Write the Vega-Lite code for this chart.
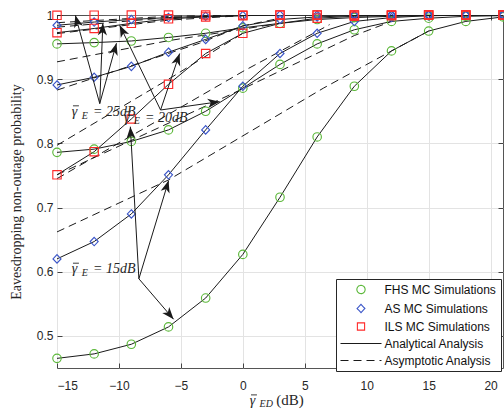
{
  "$schema": "https://vega.github.io/schema/vega-lite/v6.json",
  "width": 446,
  "height": 353,
  "autosize": {"type": "none"},
  "padding": {"left": 57, "top": 15, "right": 1, "bottom": 45},
  "background": "white",
  "config": {
    "view": {"stroke": "#555555", "strokeWidth": 1},
    "axis": {
      "labelFont": "Liberation Sans", "labelFontSize": 12, "labelColor": "#262626",
      "domain": false, "gridColor": "#e3e3e3", "gridWidth": 1,
      "tickColor": "#444444", "tickSize": -5, "tickWidth": 1,
      "title": null
    }
  },
  "datasets": {
    "sim": [
      {"s": "FHS15", "leg": "FHS MC Simulations", "x": -15, "y": 0.465},
      {"s": "FHS15", "leg": "FHS MC Simulations", "x": -12, "y": 0.472},
      {"s": "FHS15", "leg": "FHS MC Simulations", "x": -9, "y": 0.487},
      {"s": "FHS15", "leg": "FHS MC Simulations", "x": -6, "y": 0.514},
      {"s": "FHS15", "leg": "FHS MC Simulations", "x": -3, "y": 0.559},
      {"s": "FHS15", "leg": "FHS MC Simulations", "x": 0, "y": 0.627},
      {"s": "FHS15", "leg": "FHS MC Simulations", "x": 3, "y": 0.716},
      {"s": "FHS15", "leg": "FHS MC Simulations", "x": 6, "y": 0.81},
      {"s": "FHS15", "leg": "FHS MC Simulations", "x": 9, "y": 0.889},
      {"s": "FHS15", "leg": "FHS MC Simulations", "x": 12, "y": 0.944},
      {"s": "FHS15", "leg": "FHS MC Simulations", "x": 15, "y": 0.975},
      {"s": "FHS15", "leg": "FHS MC Simulations", "x": 18, "y": 0.99},
      {"s": "FHS15", "leg": "FHS MC Simulations", "x": 21, "y": 0.997},
      {"s": "FHS20", "leg": "FHS MC Simulations", "x": -15, "y": 0.786},
      {"s": "FHS20", "leg": "FHS MC Simulations", "x": -12, "y": 0.791},
      {"s": "FHS20", "leg": "FHS MC Simulations", "x": -9, "y": 0.803},
      {"s": "FHS20", "leg": "FHS MC Simulations", "x": -6, "y": 0.821},
      {"s": "FHS20", "leg": "FHS MC Simulations", "x": -3, "y": 0.85},
      {"s": "FHS20", "leg": "FHS MC Simulations", "x": 0, "y": 0.886},
      {"s": "FHS20", "leg": "FHS MC Simulations", "x": 3, "y": 0.923},
      {"s": "FHS20", "leg": "FHS MC Simulations", "x": 6, "y": 0.955},
      {"s": "FHS20", "leg": "FHS MC Simulations", "x": 9, "y": 0.977},
      {"s": "FHS20", "leg": "FHS MC Simulations", "x": 12, "y": 0.99},
      {"s": "FHS20", "leg": "FHS MC Simulations", "x": 15, "y": 0.995},
      {"s": "FHS20", "leg": "FHS MC Simulations", "x": 18, "y": 0.998},
      {"s": "FHS20", "leg": "FHS MC Simulations", "x": 21, "y": 0.999},
      {"s": "FHS25", "leg": "FHS MC Simulations", "x": -15, "y": 0.955},
      {"s": "FHS25", "leg": "FHS MC Simulations", "x": -12, "y": 0.957},
      {"s": "FHS25", "leg": "FHS MC Simulations", "x": -9, "y": 0.9595},
      {"s": "FHS25", "leg": "FHS MC Simulations", "x": -6, "y": 0.965},
      {"s": "FHS25", "leg": "FHS MC Simulations", "x": -3, "y": 0.9715},
      {"s": "FHS25", "leg": "FHS MC Simulations", "x": 0, "y": 0.98},
      {"s": "FHS25", "leg": "FHS MC Simulations", "x": 3, "y": 0.987},
      {"s": "FHS25", "leg": "FHS MC Simulations", "x": 6, "y": 0.993},
      {"s": "FHS25", "leg": "FHS MC Simulations", "x": 9, "y": 0.996},
      {"s": "FHS25", "leg": "FHS MC Simulations", "x": 12, "y": 0.998},
      {"s": "FHS25", "leg": "FHS MC Simulations", "x": 15, "y": 0.999},
      {"s": "FHS25", "leg": "FHS MC Simulations", "x": 18, "y": 0.9995},
      {"s": "FHS25", "leg": "FHS MC Simulations", "x": 21, "y": 1.0},
      {"s": "AS15", "leg": "AS MC Simulations", "x": -15, "y": 0.62},
      {"s": "AS15", "leg": "AS MC Simulations", "x": -12, "y": 0.647},
      {"s": "AS15", "leg": "AS MC Simulations", "x": -9, "y": 0.69},
      {"s": "AS15", "leg": "AS MC Simulations", "x": -6, "y": 0.751},
      {"s": "AS15", "leg": "AS MC Simulations", "x": -3, "y": 0.821},
      {"s": "AS15", "leg": "AS MC Simulations", "x": 0, "y": 0.889},
      {"s": "AS15", "leg": "AS MC Simulations", "x": 3, "y": 0.94},
      {"s": "AS15", "leg": "AS MC Simulations", "x": 6, "y": 0.9715},
      {"s": "AS15", "leg": "AS MC Simulations", "x": 9, "y": 0.99},
      {"s": "AS15", "leg": "AS MC Simulations", "x": 12, "y": 0.996},
      {"s": "AS15", "leg": "AS MC Simulations", "x": 15, "y": 0.999},
      {"s": "AS15", "leg": "AS MC Simulations", "x": 18, "y": 0.9995},
      {"s": "AS15", "leg": "AS MC Simulations", "x": 21, "y": 1.0},
      {"s": "AS20", "leg": "AS MC Simulations", "x": -15, "y": 0.891},
      {"s": "AS20", "leg": "AS MC Simulations", "x": -12, "y": 0.903},
      {"s": "AS20", "leg": "AS MC Simulations", "x": -9, "y": 0.92},
      {"s": "AS20", "leg": "AS MC Simulations", "x": -6, "y": 0.942},
      {"s": "AS20", "leg": "AS MC Simulations", "x": -3, "y": 0.962},
      {"s": "AS20", "leg": "AS MC Simulations", "x": 0, "y": 0.983},
      {"s": "AS20", "leg": "AS MC Simulations", "x": 3, "y": 0.993},
      {"s": "AS20", "leg": "AS MC Simulations", "x": 6, "y": 0.997},
      {"s": "AS20", "leg": "AS MC Simulations", "x": 9, "y": 0.999},
      {"s": "AS20", "leg": "AS MC Simulations", "x": 12, "y": 0.9995},
      {"s": "AS20", "leg": "AS MC Simulations", "x": 15, "y": 1.0},
      {"s": "AS20", "leg": "AS MC Simulations", "x": 18, "y": 1.0},
      {"s": "AS20", "leg": "AS MC Simulations", "x": 21, "y": 1.0},
      {"s": "AS25", "leg": "AS MC Simulations", "x": -15, "y": 0.984},
      {"s": "AS25", "leg": "AS MC Simulations", "x": -12, "y": 0.989},
      {"s": "AS25", "leg": "AS MC Simulations", "x": -9, "y": 0.993},
      {"s": "AS25", "leg": "AS MC Simulations", "x": -6, "y": 0.996},
      {"s": "AS25", "leg": "AS MC Simulations", "x": -3, "y": 0.998},
      {"s": "AS25", "leg": "AS MC Simulations", "x": 0, "y": 0.999},
      {"s": "AS25", "leg": "AS MC Simulations", "x": 3, "y": 1.0},
      {"s": "AS25", "leg": "AS MC Simulations", "x": 6, "y": 1.0},
      {"s": "AS25", "leg": "AS MC Simulations", "x": 9, "y": 1.0},
      {"s": "AS25", "leg": "AS MC Simulations", "x": 12, "y": 1.0},
      {"s": "AS25", "leg": "AS MC Simulations", "x": 15, "y": 1.0},
      {"s": "AS25", "leg": "AS MC Simulations", "x": 18, "y": 1.0},
      {"s": "AS25", "leg": "AS MC Simulations", "x": 21, "y": 1.0},
      {"s": "ILS15", "leg": "ILS MC Simulations", "x": -15, "y": 0.751},
      {"s": "ILS15", "leg": "ILS MC Simulations", "x": -12, "y": 0.787},
      {"s": "ILS15", "leg": "ILS MC Simulations", "x": -9, "y": 0.838},
      {"s": "ILS15", "leg": "ILS MC Simulations", "x": -6, "y": 0.892},
      {"s": "ILS15", "leg": "ILS MC Simulations", "x": -3, "y": 0.94},
      {"s": "ILS15", "leg": "ILS MC Simulations", "x": 0, "y": 0.9715},
      {"s": "ILS15", "leg": "ILS MC Simulations", "x": 3, "y": 0.987},
      {"s": "ILS15", "leg": "ILS MC Simulations", "x": 6, "y": 0.995},
      {"s": "ILS15", "leg": "ILS MC Simulations", "x": 9, "y": 0.998},
      {"s": "ILS15", "leg": "ILS MC Simulations", "x": 12, "y": 0.999},
      {"s": "ILS15", "leg": "ILS MC Simulations", "x": 15, "y": 1.0},
      {"s": "ILS15", "leg": "ILS MC Simulations", "x": 18, "y": 1.0},
      {"s": "ILS15", "leg": "ILS MC Simulations", "x": 21, "y": 1.0},
      {"s": "ILS20", "leg": "ILS MC Simulations", "x": -15, "y": 0.9725},
      {"s": "ILS20", "leg": "ILS MC Simulations", "x": -12, "y": 0.979},
      {"s": "ILS20", "leg": "ILS MC Simulations", "x": -9, "y": 0.987},
      {"s": "ILS20", "leg": "ILS MC Simulations", "x": -6, "y": 0.994},
      {"s": "ILS20", "leg": "ILS MC Simulations", "x": -3, "y": 0.997},
      {"s": "ILS20", "leg": "ILS MC Simulations", "x": 0, "y": 0.999},
      {"s": "ILS20", "leg": "ILS MC Simulations", "x": 3, "y": 1.0},
      {"s": "ILS20", "leg": "ILS MC Simulations", "x": 6, "y": 1.0},
      {"s": "ILS20", "leg": "ILS MC Simulations", "x": 9, "y": 1.0},
      {"s": "ILS20", "leg": "ILS MC Simulations", "x": 12, "y": 1.0},
      {"s": "ILS20", "leg": "ILS MC Simulations", "x": 15, "y": 1.0},
      {"s": "ILS20", "leg": "ILS MC Simulations", "x": 18, "y": 1.0},
      {"s": "ILS20", "leg": "ILS MC Simulations", "x": 21, "y": 1.0},
      {"s": "ILS25", "leg": "ILS MC Simulations", "x": -15, "y": 0.9995},
      {"s": "ILS25", "leg": "ILS MC Simulations", "x": -12, "y": 0.9997},
      {"s": "ILS25", "leg": "ILS MC Simulations", "x": -9, "y": 1.0},
      {"s": "ILS25", "leg": "ILS MC Simulations", "x": -6, "y": 1.0},
      {"s": "ILS25", "leg": "ILS MC Simulations", "x": -3, "y": 1.0},
      {"s": "ILS25", "leg": "ILS MC Simulations", "x": 0, "y": 1.0},
      {"s": "ILS25", "leg": "ILS MC Simulations", "x": 3, "y": 1.0},
      {"s": "ILS25", "leg": "ILS MC Simulations", "x": 6, "y": 1.0},
      {"s": "ILS25", "leg": "ILS MC Simulations", "x": 9, "y": 1.0},
      {"s": "ILS25", "leg": "ILS MC Simulations", "x": 12, "y": 1.0},
      {"s": "ILS25", "leg": "ILS MC Simulations", "x": 15, "y": 1.0},
      {"s": "ILS25", "leg": "ILS MC Simulations", "x": 18, "y": 1.0},
      {"s": "ILS25", "leg": "ILS MC Simulations", "x": 21, "y": 1.0}
    ],
    "asym": [
      {"s": "FHS15", "leg": "Asymptotic Analysis", "x": -15, "y": 0.662}, {"s": "FHS15", "leg": "Asymptotic Analysis", "x": -6, "y": 0.743}, {"s": "FHS15", "leg": "Asymptotic Analysis", "x": 6.5, "y": 0.886}, {"s": "FHS15", "leg": "Asymptotic Analysis", "x": 12, "y": 0.944}, {"s": "FHS15", "leg": "Asymptotic Analysis", "x": 15, "y": 0.975},
      {"s": "AS15", "leg": "Asymptotic Analysis", "x": -15, "y": 0.745}, {"s": "AS15", "leg": "Asymptotic Analysis", "x": 0, "y": 0.912}, {"s": "AS15", "leg": "Asymptotic Analysis", "x": 7, "y": 0.985},
      {"s": "FHS20", "leg": "Asymptotic Analysis", "x": -15, "y": 0.751}, {"s": "FHS20", "leg": "Asymptotic Analysis", "x": 0, "y": 0.885}, {"s": "FHS20", "leg": "Asymptotic Analysis", "x": 9, "y": 0.968}, {"s": "FHS20", "leg": "Asymptotic Analysis", "x": 12, "y": 0.99},
      {"s": "ILS15", "leg": "Asymptotic Analysis", "x": -15, "y": 0.797}, {"s": "ILS15", "leg": "Asymptotic Analysis", "x": -6, "y": 0.9}, {"s": "ILS15", "leg": "Asymptotic Analysis", "x": 0, "y": 0.9715},
      {"s": "AS20", "leg": "Asymptotic Analysis", "x": -15, "y": 0.883}, {"s": "AS20", "leg": "Asymptotic Analysis", "x": -3.5, "y": 0.956}, {"s": "AS20", "leg": "Asymptotic Analysis", "x": 0, "y": 0.983}, {"s": "AS20", "leg": "Asymptotic Analysis", "x": 3, "y": 0.995},
      {"s": "FHS25", "leg": "Asymptotic Analysis", "x": -15, "y": 0.927}, {"s": "FHS25", "leg": "Asymptotic Analysis", "x": -6, "y": 0.96}, {"s": "FHS25", "leg": "Asymptotic Analysis", "x": 3, "y": 0.987},
      {"s": "ILS20", "leg": "Asymptotic Analysis", "x": -15, "y": 0.971}, {"s": "ILS20", "leg": "Asymptotic Analysis", "x": -6, "y": 0.992}, {"s": "ILS20", "leg": "Asymptotic Analysis", "x": 0, "y": 0.999},
      {"s": "AS25", "leg": "Asymptotic Analysis", "x": -15, "y": 0.981}, {"s": "AS25", "leg": "Asymptotic Analysis", "x": -6, "y": 0.996}, {"s": "AS25", "leg": "Asymptotic Analysis", "x": 0, "y": 0.999},
      {"s": "ILS25", "leg": "Asymptotic Analysis", "x": -15, "y": 0.988}, {"s": "ILS25", "leg": "Asymptotic Analysis", "x": -6, "y": 0.998}, {"s": "ILS25", "leg": "Asymptotic Analysis", "x": 0, "y": 1.0}
    ],
    "arrows": [
      {"g": "25", "x": -11.55, "y": 0.862, "x2": -13.52, "y2": 0.9995},
      {"g": "25", "x": -11.55, "y": 0.862, "x2": -11.3, "y2": 0.987},
      {"g": "25", "x": -11.55, "y": 0.862, "x2": -10.2, "y2": 0.956},
      {"g": "20", "x": -6.64, "y": 0.852, "x2": -9.94, "y2": 0.984},
      {"g": "20", "x": -6.64, "y": 0.852, "x2": -5.1, "y2": 0.94},
      {"g": "20", "x": -6.64, "y": 0.852, "x2": -1.87, "y2": 0.865},
      {"g": "15", "x": -8.39, "y": 0.589, "x2": -9.08, "y2": 0.826},
      {"g": "15", "x": -8.39, "y": 0.589, "x2": -5.99, "y2": 0.742},
      {"g": "15", "x": -8.39, "y": 0.589, "x2": -5.59, "y2": 0.526}
    ],
    "bars": [
      {"x": -13.71, "x2": -13.23, "y": 0.8585},
      {"x": -9.52, "x2": -9.04, "y": 0.8493},
      {"x": -13.71, "x2": -13.23, "y": 0.6133},
      {"x": 0.66, "x2": 1.14, "y": 0.4081}
    ],
    "notes": [
      {"k": "main", "x": -13.8, "y": 0.8426, "t": "γ"},
      {"k": "sub", "x": -13.0, "y": 0.8385, "t": "E"},
      {"k": "main", "x": -12.1, "y": 0.8426, "t": "= 25dB"},
      {"k": "main", "x": -9.6, "y": 0.8337, "t": "γ"},
      {"k": "sub", "x": -8.8, "y": 0.8296, "t": "E"},
      {"k": "main", "x": -7.9, "y": 0.8337, "t": "= 20dB"},
      {"k": "main", "x": -13.8, "y": 0.598, "t": "γ"},
      {"k": "sub", "x": -13.0, "y": 0.594, "t": "E"},
      {"k": "main", "x": -12.1, "y": 0.598, "t": "= 15dB"},
      {"k": "main", "x": 0.55, "y": 0.3925, "t": "γ"},
      {"k": "sub", "x": 1.35, "y": 0.3885, "t": "ED"},
      {"k": "rom", "x": 2.7, "y": 0.3925, "t": "(dB)"}
    ]
  },
  "resolve": {"axis": {"x": "independent", "y": "independent"}},
  "layer": [
    {
      "data": {"name": "sim"},
      "transform": [{"calculate": "'Analytical Analysis'", "as": "leg"}],
      "mark": {"type": "line", "strokeWidth": 1, "clip": true},
      "encoding": {
        "x": {"field": "x", "type": "quantitative", "scale": {"domain": [-15, 21], "nice": false, "zero": false},
              "axis": {"values": [-15, -10, -5, 0, 5, 10, 15, 20], "grid": true, "labelPadding": 17, "orient": "bottom"}},
        "y": {"field": "y", "type": "quantitative", "scale": {"domain": [0.45, 1], "nice": false, "zero": false},
              "axis": {"values": [0.5, 0.6, 0.7, 0.8, 0.9, 1], "format": ".1~f", "grid": true, "labelPadding": 9, "orient": "left",
                       "title": "Eavesdropping non-outage probability", "titleFont": "Liberation Serif", "titleFontSize": 14, "titleFontWeight": "normal", "titleColor": "#262626", "titlePadding": 13}},
        "detail": {"field": "s"},
        "color": {"field": "leg", "type": "nominal",
          "scale": {"domain": ["FHS MC Simulations", "AS MC Simulations", "ILS MC Simulations", "Analytical Analysis", "Asymptotic Analysis"],
                    "range": ["#5cb83a", "#3a55c8", "#ff2a2a", "#1a1a1a", "#1a1a1a"]},
          "legend": {
            "orient": "none", "legendX": 279, "legendY": 264, "title": null,
            "direction": "vertical",
            "padding": 4.5, "strokeColor": "#262626", "fillColor": "white",
            "labelFont": "Liberation Sans", "labelFontSize": 12, "labelColor": "#111111", "labelLimit": 200,
            "symbolSize": 64, "rowPadding": 5, "symbolStrokeWidth": 1,
            "encode": {
              "symbols": {
                "update": {
                  "x": {"value": 20.5},
                  "fill": {"value": "transparent"},
                  "strokeWidth": {"value": 1.1},
                  "shape": {"signal": "datum.value == 'FHS MC Simulations' ? 'circle' : datum.value == 'AS MC Simulations' ? 'M0,-1L0.95,0L0,1L-0.95,0Z' : datum.value == 'ILS MC Simulations' ? 'square' : 'stroke'"},
                  "size": {"signal": "datum.value == 'Analytical Analysis' || datum.value == 'Asymptotic Analysis' ? 1681 : (datum.value == 'ILS MC Simulations' ? 52 : 68)"},
                  "strokeDash": {"signal": "datum.value == 'Asymptotic Analysis' ? [8, 5] : [1, 0]"}
                }
              },
              "labels": {
                "update": {"x": {"value": 44}}
              }
            }
          }
        }
      }
    },
    {
      "data": {"name": "asym"},
      "mark": {"type": "line", "strokeWidth": 1, "strokeDash": [8, 5], "clip": true},
      "encoding": {
        "x": {"field": "x", "type": "quantitative", "axis": {"values": [-15, -10, -5, 0, 5, 10, 15, 20], "labels": false, "grid": false, "orient": "top"}},
        "y": {"field": "y", "type": "quantitative", "axis": {"values": [0.5, 0.6, 0.7, 0.8, 0.9, 1], "labels": false, "grid": false, "orient": "right"}},
        "detail": {"field": "s"},
        "color": {"field": "leg", "type": "nominal"}
      }
    },
    {
      "data": {"name": "sim"},
      "mark": {"type": "point", "filled": false, "strokeWidth": 1.15, "opacity": 1, "clip": false},
      "encoding": {
        "x": {"field": "x", "type": "quantitative", "axis": null},
        "y": {"field": "y", "type": "quantitative", "axis": null},
        "color": {"field": "leg", "type": "nominal"},
        "shape": {"field": "leg", "type": "nominal",
          "scale": {"domain": ["FHS MC Simulations", "AS MC Simulations", "ILS MC Simulations"], "range": ["circle", "M0,-1L0.95,0L0,1L-0.95,0Z", "square"]},
          "legend": null},
        "size": {"field": "leg", "type": "nominal",
          "scale": {"domain": ["FHS MC Simulations", "AS MC Simulations", "ILS MC Simulations"], "range": [72, 70, 54]},
          "legend": null}
      }
    },
    {
      "data": {"name": "arrows"},
      "mark": {"type": "rule", "color": "#1a1a1a", "strokeWidth": 1},
      "encoding": {
        "x": {"field": "x", "type": "quantitative", "axis": null},
        "y": {"field": "y", "type": "quantitative", "axis": null},
        "x2": {"field": "x2"},
        "y2": {"field": "y2"}
      }
    },
    {
      "data": {"name": "arrows"},
      "transform": [{"calculate": "atan2((datum.x2 - datum.x) * 12.389, (datum.y2 - datum.y) * 641.8) * 180 / PI", "as": "ang"}],
      "mark": {"type": "point", "shape": "M0,0L0.42,1.1L0,0.8L-0.42,1.1Z", "filled": true, "color": "#1a1a1a", "opacity": 1, "size": 480, "strokeWidth": 0},
      "encoding": {
        "x": {"field": "x2", "type": "quantitative", "axis": null},
        "y": {"field": "y2", "type": "quantitative", "axis": null},
        "angle": {"field": "ang", "type": "quantitative", "scale": null}
      }
    },
    {
      "data": {"name": "bars"},
      "mark": {"type": "rule", "color": "#262626", "strokeWidth": 0.9, "clip": false},
      "encoding": {
        "x": {"field": "x", "type": "quantitative", "axis": null},
        "x2": {"field": "x2"},
        "y": {"field": "y", "type": "quantitative", "axis": null}
      }
    },
    {
      "data": {"name": "notes"},
      "transform": [{"filter": "datum.k == 'main'"}],
      "mark": {"type": "text", "font": "Liberation Serif", "fontStyle": "italic", "fontSize": 14, "align": "left", "baseline": "alphabetic", "color": "#262626", "clip": false},
      "encoding": {
        "x": {"field": "x", "type": "quantitative", "axis": null},
        "y": {"field": "y", "type": "quantitative", "axis": null},
        "text": {"field": "t"}
      }
    },
    {
      "data": {"name": "notes"},
      "transform": [{"filter": "datum.k == 'sub'"}],
      "mark": {"type": "text", "font": "Liberation Serif", "fontStyle": "italic", "fontSize": 10, "align": "left", "baseline": "alphabetic", "color": "#262626"},
      "encoding": {
        "x": {"field": "x", "type": "quantitative", "axis": null},
        "y": {"field": "y", "type": "quantitative", "axis": null},
        "text": {"field": "t"}
      }
    },
    {
      "data": {"name": "notes"},
      "transform": [{"filter": "datum.k == 'rom'"}],
      "mark": {"type": "text", "font": "Liberation Serif", "fontSize": 15, "align": "left", "baseline": "alphabetic", "color": "#262626"},
      "encoding": {
        "x": {"field": "x", "type": "quantitative", "axis": null},
        "y": {"field": "y", "type": "quantitative", "axis": null},
        "text": {"field": "t"}
      }
    }
  ]
}
